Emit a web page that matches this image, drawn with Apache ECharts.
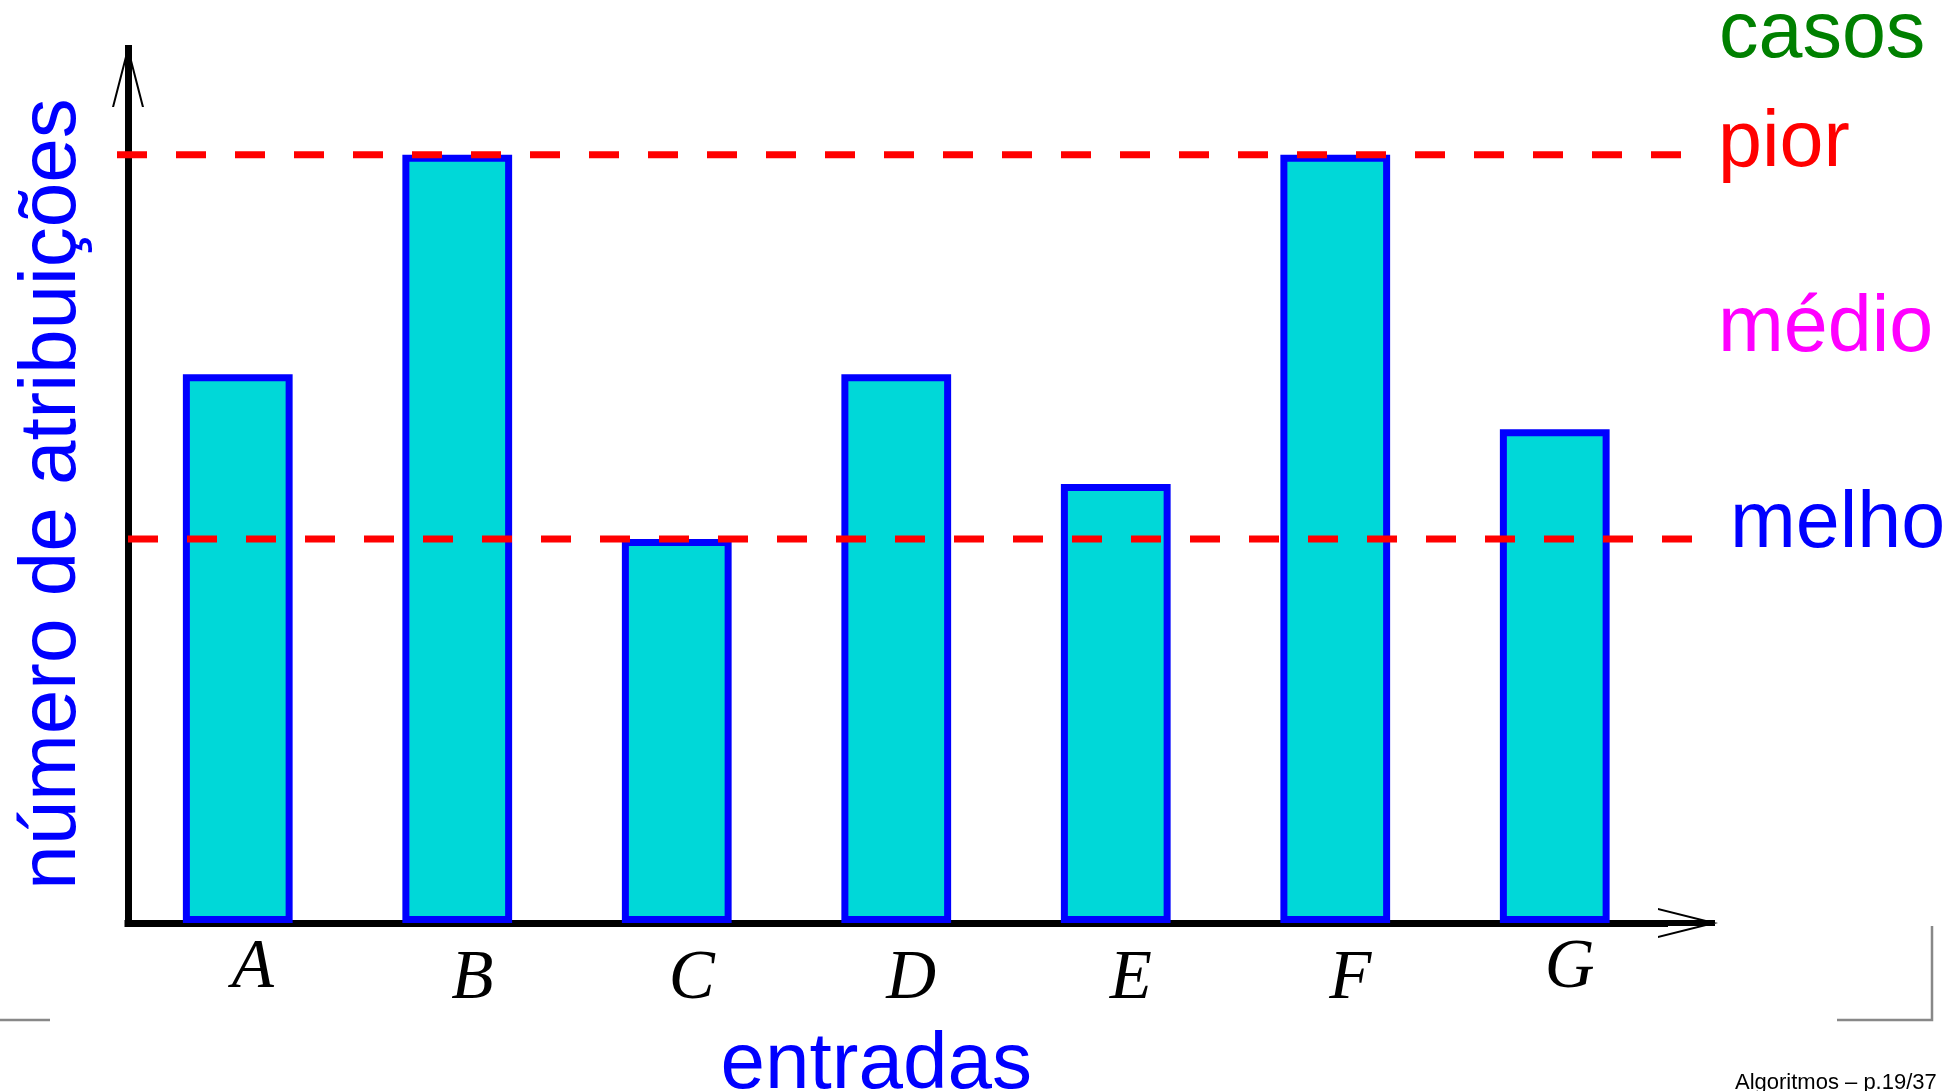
<!DOCTYPE html>
<html><head><meta charset="utf-8">
<script src="https://cdn.jsdelivr.net/npm/echarts@6/dist/echarts.min.js"></script>
<style>html,body{margin:0;padding:0;background:#fff;overflow:hidden}#c{width:1948px;height:1091px}</style>
</head><body><div id="c"></div>
<script>
// ---- data ----
const categories = ['A', 'B', 'C', 'D', 'E', 'F', 'G'];
const assignments = [10, 14, 7, 10, 8, 14, 9];
const worstCase = 14;
const bestCase = 7;
const yMax = 16;
const caseTitle = 'casos';
const caseLabels = ['pior', 'médio', 'melhor'];
const raisedLabels = ['A', 'G'];
const xName = 'entradas';
const yName = 'número de atribuições';
const footer = 'Algoritmos – p.19/37';

// ---- styling ----
const SANS = '"Liberation Sans", Arial, Helvetica, sans-serif';
const SERIF = '"Liberation Serif", "Times New Roman", serif';
const yArrow = 'path://M16 0L32 62L29.93 62L16 8.02L2.07 62L0 62Z';
const xArrow = 'path://M15 0L30 60L27.94 60L15 8.24L2.06 60L0 60ZM12 3L18 3L18 60L12 60Z';
const gridTop = 45, gridBottom = 168;

const chart = echarts.init(document.getElementById('c'), null, {renderer: 'canvas'});
const letterStyle = {fontFamily: SERIF, fontStyle: 'italic', fontSize: 69, color: '#000'};

const option = {
  animation: false,
  backgroundColor: '#ffffff',
  grid: [
    {left: 128, right: 283.5, top: gridTop, bottom: gridBottom, outerBoundsMode: 'none', containLabel: false},
    {left: 117, right: 238, top: gridTop, bottom: gridBottom, outerBoundsMode: 'none', containLabel: false},
    {left: 128, right: 228, top: gridTop, bottom: gridBottom, outerBoundsMode: 'none', containLabel: false}
  ],
  xAxis: [
    {
      type: 'category', gridIndex: 0, data: categories,
      axisLine: {show: true, lineStyle: {color: '#000', width: 7, cap: 'square'},
        symbol: ['none', xArrow], symbolSize: [30, 60], symbolOffset: [0, 23.5]},
      axisTick: {show: false},
      axisLabel: {
        margin: 11, interval: 0,
        formatter: v => (raisedLabels.includes(v) ? '{hi|' : '{lo|') + v + '}',
        rich: {
          hi: Object.assign({padding: [0, 0, 0, 30]}, letterStyle),
          lo: Object.assign({padding: [11, 0, 0, 30]}, letterStyle)
        }
      },
      name: xName, nameLocation: 'middle', nameGap: 103,
      nameTextStyle: {fontFamily: SANS, fontSize: 80, color: '#0000ff', padding: [0, 40, 0, 0]}
    },
    {type: 'value', gridIndex: 1, min: 0, max: 1, show: false},
    {type: 'value', gridIndex: 2, min: 0, max: 1, show: false}
  ],
  yAxis: [
    {
      type: 'value', gridIndex: 0, min: 0, max: yMax,
      splitLine: {show: false}, axisTick: {show: false}, axisLabel: {show: false},
      axisLine: {show: true, lineStyle: {color: '#000', width: 7, cap: 'butt'},
        symbol: ['none', yArrow], symbolSize: [32, 62], symbolOffset: [0, -31]},
      name: yName, nameLocation: 'middle', nameGap: 35,
      nameTextStyle: {fontFamily: SANS, fontSize: 80, color: '#0000ff', padding: [0, 20, 0, 0]}
    },
    {type: 'value', gridIndex: 1, min: 0, max: yMax, show: false},
    {type: 'value', gridIndex: 2, min: 0, max: yMax, show: false}
  ],
  series: [
    {
      type: 'bar', xAxisIndex: 0, yAxisIndex: 0, data: assignments, barWidth: '50%', z: 2,
      itemStyle: {color: '#00d8d8', borderColor: '#0000ff', borderWidth: 7},
      emphasis: {disabled: true}
    },
    {
      type: 'line', xAxisIndex: 1, yAxisIndex: 1, data: [[0, worstCase], [1, worstCase]],
      symbol: 'none', z: 5, silent: true,
      lineStyle: {color: '#ff0000', width: 7, type: [30, 29]},
      endLabel: {show: true, formatter: caseLabels[0], color: '#ff0000', fontFamily: SANS, fontSize: 79,
        distance: 8, offset: [0, -10.5]}
    },
    {
      type: 'line', xAxisIndex: 2, yAxisIndex: 2, data: [[0, bestCase], [1, bestCase]],
      symbol: 'none', z: 5, silent: true,
      lineStyle: {color: '#ff0000', width: 7, type: [30, 29]},
      endLabel: {show: true, formatter: caseLabels[2], color: '#0000ff', fontFamily: SANS, fontSize: 79,
        distance: 10, offset: [0, -14]}
    }
  ],
  graphic: [
    {type: 'text', x: 1719, y: 35, style: {text: caseTitle, fill: '#008000', font: '79px ' + SANS, verticalAlign: 'middle'}},
    {type: 'text', x: 1718, y: 329, style: {text: caseLabels[1], fill: '#ff00ff', font: '79px ' + SANS, verticalAlign: 'middle'}},
    {type: 'text', x: 1735, y: 1083, style: {text: footer, fill: '#000', font: '22px ' + SANS, verticalAlign: 'middle'}},
    {type: 'polyline', shape: {points: [[0, 1020], [50, 1020]]}, style: {stroke: '#888', lineWidth: 2.5, fill: null}},
    {type: 'polyline', shape: {points: [[1837, 1020], [1932, 1020], [1932, 926]]}, style: {stroke: '#888', lineWidth: 2.5, fill: null}}
  ]
};
chart.setOption(option);
</script>
</body></html>
